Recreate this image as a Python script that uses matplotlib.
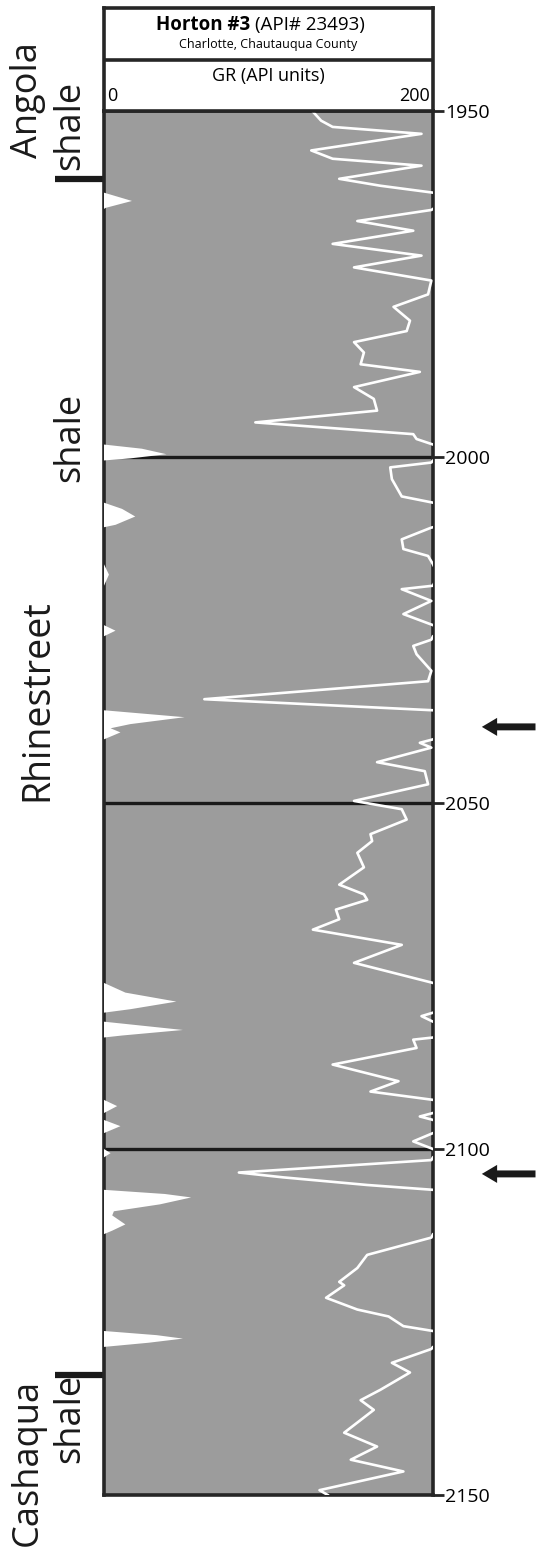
import numpy as np
import matplotlib.pyplot as plt

plt.rcParams['font.family'] = ['Open Sans', 'DejaVu Sans']

# Gamma-ray log, depth in ft; readings above 200 API wrap back to the left edge
depth = [1950.1, 1951.4, 1952.3, 1953.3, 1955.7, 1956.9, 1957.9, 1959.8, 1960.8,
         1961.8, 1963.0, 1964.0, 1964.3, 1965.9, 1967.3, 1969.2, 1970.9, 1972.6,
         1974.5, 1976.5, 1978.3, 1980.3, 1981.8, 1983.4, 1984.9, 1986.6, 1987.7,
         1989.9, 1991.6, 1993.3, 1995.0, 1996.7, 1997.4, 1998.2, 1998.8, 1999.6,
         2000.2, 2000.5, 2000.8, 2001.5, 2003.2, 2005.7, 2006.6, 2007.5, 2008.6,
         2009.8, 2010.2, 2011.9, 2013.3, 2014.3, 2015.5, 2017.0, 2018.6, 2019.1,
         2020.8, 2022.7, 2024.3, 2025.1, 2025.9, 2026.4, 2027.3, 2028.5, 2030.9,
         2032.4, 2035.0, 2036.6, 2037.6, 2038.6, 2039.2, 2039.8, 2040.8, 2041.3,
         2042.0, 2044.1, 2045.4, 2047.3, 2049.7, 2050.9, 2052.4, 2054.5, 2055.5,
         2057.2, 2059.3, 2061.8, 2063.2, 2064.0, 2065.4, 2066.8, 2068.3, 2070.5,
         2073.1, 2076.0, 2077.4, 2078.7, 2079.8, 2080.3, 2080.8, 2081.6, 2082.8,
         2083.6, 2084.2, 2085.4, 2087.8, 2090.2, 2091.7, 2092.9, 2093.8, 2094.8,
         2095.3, 2095.8, 2096.7, 2097.7, 2098.9, 2100.0, 2100.6, 2101.2, 2101.6,
         2103.4, 2104.1, 2105.2, 2105.9, 2106.5, 2107.0, 2108.0, 2109.0, 2109.6,
         2110.9, 2111.8, 2112.3, 2112.8, 2115.3, 2117.2, 2119.2, 2119.7, 2121.5,
         2123.2, 2124.2, 2125.6, 2126.3, 2126.9, 2127.4, 2128.0, 2128.6, 2128.9,
         2130.9, 2132.3, 2134.8, 2136.3, 2137.7, 2141.0, 2143.0, 2144.9, 2146.6,
         2149.3, 2150.0]
gr = [127, 132, 139, 193, 126, 139, 193, 143, 168,
      200, 217, 201, 199, 154, 188, 139, 193, 152,
      199, 197, 176, 186, 184, 152, 158, 156, 192,
      152, 164, 166, 92, 188, 190, 200, 223, 238,
      216, 200, 199, 174, 175, 181, 200, 211, 219,
      207, 199, 181, 182, 197, 200, 203, 200, 181,
      199, 182, 200, 207, 200, 199, 188, 190, 199,
      197, 61, 200, 249, 216, 204, 210, 200, 192,
      199, 166, 195, 197, 152, 181, 184, 162, 163,
      154, 158, 143, 158, 160, 141, 143, 127, 181,
      152, 200, 213, 244, 216, 200, 193, 200, 248,
      211, 188, 190, 139, 179, 162, 200, 208, 200,
      192, 200, 210, 200, 188, 200, 204, 200, 199,
      82, 109, 160, 200, 237, 253, 234, 206, 205,
      213, 205, 200, 199, 160, 154, 143, 146, 135,
      154, 173, 182, 200, 232, 248, 227, 200, 199,
      175, 186, 168, 156, 164, 146, 166, 150, 182,
      131, 136]

depth_ticks = [1950, 2000, 2050, 2100, 2150]
section_breaks = [2000, 2050, 2100]
unit_tops = [1959.8, 2132.6]
arrow_depths = [2039.0, 2103.6]

W, H = 542, 1547


def fpos(x0, y0, x1, y1):
    # pixel box (top-left origin) -> figure fraction rect
    return [x0 / W, 1 - y1 / H, (x1 - x0) / W, (y1 - y0) / H]


fig = plt.figure(figsize=(W / 100, H / 100), dpi=100)
dark = '#262626'

# --- log track ---
ax = fig.add_axes(fpos(104, 111, 433, 1495))
ax.set_facecolor('#9c9c9c')
ax.set_xlim(0, 200)
ax.set_ylim(2150, 1950)

for d in section_breaks:
    ax.axhline(d, color='#1a1a1a', lw=2.4, zorder=2)

g = np.array(gr, dtype=float)
ax.fill_betweenx(depth, 0, g - 200, where=g > 200, interpolate=True,
                 color='white', lw=0, zorder=3)
ax.plot(g, depth, color='white', lw=1.9, zorder=4, solid_joinstyle='round')

for s in ax.spines.values():
    s.set_linewidth(2.6)
    s.set_color(dark)
ax.set_xticks([])
ax.yaxis.tick_right()
ax.set_yticks(depth_ticks)
ax.tick_params(axis='y', length=8, width=2, color=dark, labelsize=14, pad=1)

# formation boundaries on the left
for d in unit_tops:
    ax.plot([-0.15, 0], [d, d], transform=ax.get_yaxis_transform(),
            color='#1a1a1a', lw=4.5, clip_on=False, solid_capstyle='butt')

# arrows pointing at the sharp GR lows
for d in arrow_depths:
    ax.annotate('', xy=(1.14, d), xytext=(1.32, d),
                xycoords=ax.get_yaxis_transform(),
                arrowprops=dict(arrowstyle='simple,head_length=1.1,head_width=1.3,tail_width=0.5',
                                color='#1a1a1a', lw=0))

# formation names
txt = dict(rotation=90, ha='center', va='center', color='#1a1a1a')
fig.text(28 / W, 1 - 100 / H, 'Angola', fontsize=26, **txt)
fig.text(70 / W, 1 - 125 / H, 'shale', fontsize=26, **txt)
fig.text(70 / W, 1 - 437 / H, 'shale', fontsize=26, **txt)
fig.text(37 / W, 1 - 700 / H, 'Rhinestreet', fontsize=27, **txt)
fig.text(70 / W, 1 - 1418 / H, 'shale', fontsize=26, **txt)
fig.text(28 / W, 1 - 1462 / H, 'Cashaqua', fontsize=26, **txt)

# --- header ---
hx = fig.add_axes(fpos(104, 8, 433, 111))
hx.set_xlim(0, 1)
hx.set_ylim(0, 1)
hx.set_xticks([])
hx.set_yticks([])
for s in hx.spines.values():
    s.set_linewidth(2.6)
    s.set_color(dark)
hx.axhline(0.5, color=dark, lw=2.6)
hx.text(0.445, 0.835, 'Horton #3', fontsize=13.5, fontweight='bold', ha='right', va='center')
hx.text(0.46, 0.835, '(API# 23493)', fontsize=13.5, ha='left', va='center')
hx.text(0.5, 0.65, 'Charlotte, Chautauqua County', fontsize=9, ha='center', va='center')
hx.text(0.5, 0.34, 'GR (API units)', fontsize=13, ha='center', va='center')
hx.text(0.01, 0.15, '0', fontsize=13, ha='left', va='center')
hx.text(0.99, 0.15, '200', fontsize=13, ha='right', va='center')

fig.savefig('out.png', dpi=100)
